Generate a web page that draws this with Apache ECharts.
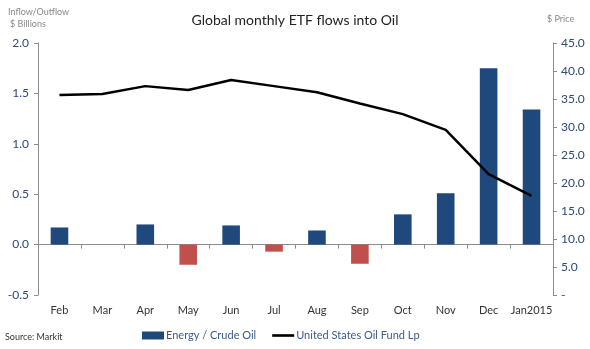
<!DOCTYPE html>
<html>
<head>
<meta charset="utf-8">
<script src="https://cdn.jsdelivr.net/npm/echarts@6/dist/echarts.min.js"></script>
<style>
  html, body { margin: 0; padding: 0; background: #fff; }
  #chart { width: 590px; height: 349px; }
</style>
</head>
<body>
<div id="chart"></div>
<script>
// Monthly categories
const months = ['Feb', 'Mar', 'Apr', 'May', 'Jun', 'Jul', 'Aug', 'Sep', 'Oct', 'Nov', 'Dec', 'Jan2015'];
// ETF inflow/outflow into energy / crude oil, $ billions
const flows = [0.17, null, 0.20, -0.20, 0.19, -0.07, 0.14, -0.19, 0.30, 0.51, 1.75, 1.34];
// United States Oil Fund Lp price, $
const price = [35.7, 35.9, 37.3, 36.6, 38.4, 37.3, 36.2, 34.2, 32.3, 29.5, 21.6, 17.7];

const blue = '#1f497d';
const red = '#c0504d';
const axisGrey = '#8c8c8c';
const labelBlue = '#2b4a78';
const font = 'Lato';

const chart = echarts.init(document.getElementById('chart'));
chart.setOption({
  animation: false,
  title: {
    text: 'Global monthly ETF flows into Oil',
    left: 'center',
    top: 8,
    textStyle: { fontFamily: font, fontSize: 14, fontWeight: 'normal', color: '#222' }
  },
  grid: { left: 38, right: 37, top: 43, bottom: 54, containLabel: false },
  legend: {
    top: 325,
    left: 137,
    itemGap: 16,
    itemWidth: 22,
    itemHeight: 8,
    textStyle: { fontFamily: font, fontSize: 11, color: '#3b5b8c', padding: [0, 0, 0, -3] },
    data: [
      { name: 'Energy / Crude Oil', icon: 'rect', itemStyle: { color: blue } },
      { name: 'United States Oil Fund Lp', icon: 'path://M0,0H25V3H0Z', itemStyle: { color: '#000' } }
    ]
  },
  xAxis: [
    {
      type: 'category',
      data: months,
      axisLine: { onZero: true, onZeroAxisIndex: 0, lineStyle: { color: axisGrey, width: 1 } },
      axisTick: { show: true, length: 4, interval: 0, lineStyle: { color: axisGrey } },
      axisLabel: { show: false }
    },
    {
      type: 'category',
      data: months,
      position: 'bottom',
      axisLine: { show: false },
      axisTick: { show: false },
      axisLabel: { interval: 0, margin: 10, fontFamily: font, fontSize: 11, color: '#333' }
    }
  ],
  yAxis: [
    {
      type: 'value',
      min: -0.5,
      max: 2.0,
      interval: 0.5,
      position: 'left',
      splitLine: { show: false },
      axisLine: { show: true, lineStyle: { color: axisGrey } },
      axisTick: { show: true, length: 4, lineStyle: { color: axisGrey } },
      axisLabel: {
        margin: 9,
        fontFamily: font, fontSize: 12, color: labelBlue,
        formatter: v => v.toFixed(1)
      }
    },
    {
      type: 'value',
      min: 0,
      max: 45,
      interval: 5,
      position: 'right',
      splitLine: { show: false },
      axisLine: { show: true, lineStyle: { color: axisGrey } },
      axisTick: { show: true, length: 4, lineStyle: { color: axisGrey } },
      axisLabel: {
        margin: 8,
        fontFamily: font, fontSize: 12, color: labelBlue,
        formatter: v => (v === 0 ? '-' : v.toFixed(1))
      }
    }
  ],
  graphic: [
    { type: 'text', left: 8, top: 8, style: { text: 'Inflow/Outflow', fontFamily: font, fontSize: 9, fill: '#888' } },
    { type: 'text', left: 10, top: 20, style: { text: '$ Billions', fontFamily: font, fontSize: 9, fill: '#888' } },
    { type: 'text', left: 547, top: 15, style: { text: '$ Price', fontFamily: font, fontSize: 9, fill: '#888' } },
    { type: 'text', left: 5, top: 333, style: { text: 'Source: Markit', fontFamily: font, fontSize: 9, fill: '#333' } }
  ],
  series: [
    {
      name: 'Energy / Crude Oil',
      type: 'bar',
      xAxisIndex: 0,
      yAxisIndex: 0,
      barWidth: '41%',
      data: flows.map(v => (v === null ? null : { value: v, itemStyle: { color: v < 0 ? red : blue } })),
      itemStyle: { color: blue }
    },
    {
      name: 'United States Oil Fund Lp',
      type: 'line',
      xAxisIndex: 0,
      yAxisIndex: 1,
      symbol: 'none',
      data: price,
      lineStyle: { color: '#000', width: 2.5 },
      itemStyle: { color: '#000' }
    }
  ]
});
</script>
</body>
</html>
